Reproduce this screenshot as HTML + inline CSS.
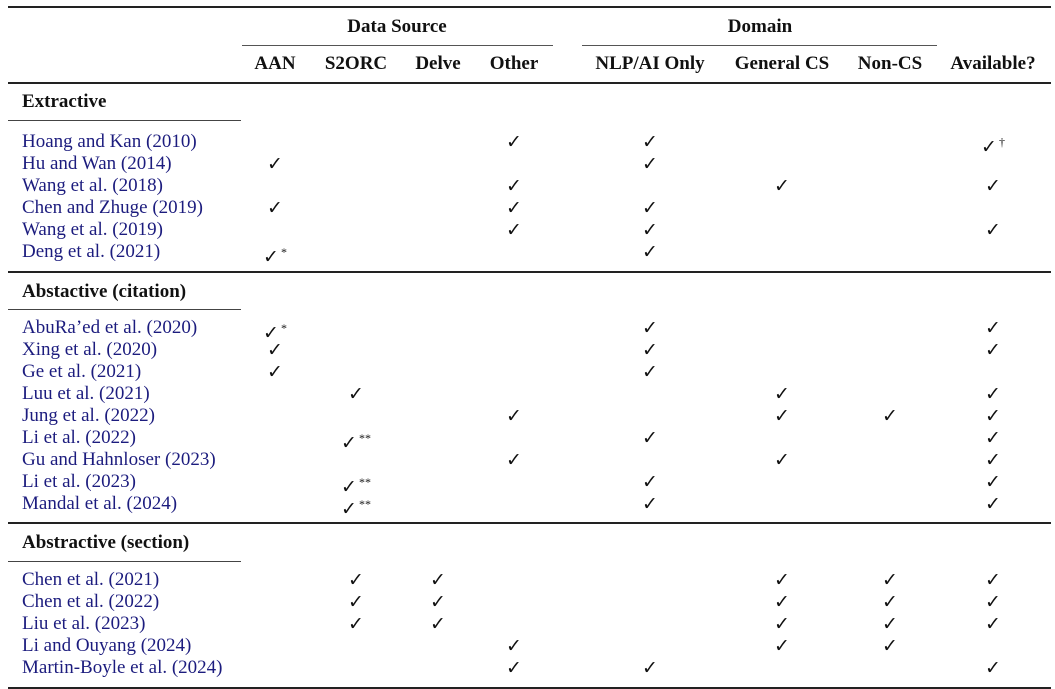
<!DOCTYPE html>
<html><head><meta charset="utf-8"><style>
body{margin:0;background:#fff;}
#c{position:relative;width:1055px;height:689px;overflow:hidden;font-family:"Liberation Serif",serif;font-size:19px;color:#111;}
.t{position:absolute;height:22px;line-height:22px;white-space:nowrap;}
.n{left:22px;color:#1c1c7e;}
.b{font-weight:bold;}
.c{transform:translateX(-50%);}
.k{font-family:"DejaVu Sans",sans-serif;font-size:19px;}
.s{font-family:"Liberation Serif",serif;font-size:12px;vertical-align:7px;margin-left:2px;}
.r{position:absolute;background:#222;}
</style></head><body><div id="c">
<div class="r" style="left:8px;top:6px;width:1043px;height:2px"></div>
<div class="r" style="left:242px;top:45px;width:311px;height:1px;background:#555"></div>
<div class="r" style="left:582px;top:45px;width:355px;height:1px;background:#555"></div>
<div class="r" style="left:8px;top:82px;width:1043px;height:1.5px"></div>
<div class="r" style="left:8px;top:120px;width:233px;height:1px;background:#444"></div>
<div class="r" style="left:8px;top:271px;width:1043px;height:1.5px"></div>
<div class="r" style="left:8px;top:309px;width:233px;height:1px;background:#444"></div>
<div class="r" style="left:8px;top:522px;width:1043px;height:1.5px"></div>
<div class="r" style="left:8px;top:561px;width:233px;height:1px;background:#444"></div>
<div class="r" style="left:8px;top:687px;width:1043px;height:2px"></div>

<div class="t b c" style="left:397px;top:16px">Data Source</div>
<div class="t b c" style="left:760px;top:16px">Domain</div>
<div class="t b c" style="left:275px;top:53px">AAN</div>
<div class="t b c" style="left:356px;top:53px">S2ORC</div>
<div class="t b c" style="left:438px;top:53px">Delve</div>
<div class="t b c" style="left:514px;top:53px">Other</div>
<div class="t b c" style="left:650px;top:53px">NLP/AI Only</div>
<div class="t b c" style="left:782px;top:53px">General CS</div>
<div class="t b c" style="left:890px;top:53px">Non-CS</div>
<div class="t b c" style="left:993px;top:53px">Available?</div>

<div class="t b" style="left:22px;top:91px">Extractive</div>
<div class="t b" style="left:22px;top:281px">Abstactive (citation)</div>
<div class="t b" style="left:22px;top:532px">Abstractive (section)</div>

<div class="t n" style="top:131px">Hoang and Kan (2010)</div>
<div class="t c k" style="left:514px;top:131px">✓</div><div class="t c k" style="left:650px;top:131px">✓</div><div class="t c k" style="left:993px;top:131px">✓<span class="s">†</span></div>
<div class="t n" style="top:153px">Hu and Wan (2014)</div>
<div class="t c k" style="left:275px;top:153px">✓</div><div class="t c k" style="left:650px;top:153px">✓</div>
<div class="t n" style="top:175px">Wang et al. (2018)</div>
<div class="t c k" style="left:514px;top:175px">✓</div><div class="t c k" style="left:782px;top:175px">✓</div><div class="t c k" style="left:993px;top:175px">✓</div>
<div class="t n" style="top:197px">Chen and Zhuge (2019)</div>
<div class="t c k" style="left:275px;top:197px">✓</div><div class="t c k" style="left:514px;top:197px">✓</div><div class="t c k" style="left:650px;top:197px">✓</div>
<div class="t n" style="top:219px">Wang et al. (2019)</div>
<div class="t c k" style="left:514px;top:219px">✓</div><div class="t c k" style="left:650px;top:219px">✓</div><div class="t c k" style="left:993px;top:219px">✓</div>
<div class="t n" style="top:241px">Deng et al. (2021)</div>
<div class="t c k" style="left:275px;top:241px">✓<span class="s">*</span></div><div class="t c k" style="left:650px;top:241px">✓</div>

<div class="t n" style="top:317px">AbuRa’ed et al. (2020)</div>
<div class="t c k" style="left:275px;top:317px">✓<span class="s">*</span></div><div class="t c k" style="left:650px;top:317px">✓</div><div class="t c k" style="left:993px;top:317px">✓</div>
<div class="t n" style="top:339px">Xing et al. (2020)</div>
<div class="t c k" style="left:275px;top:339px">✓</div><div class="t c k" style="left:650px;top:339px">✓</div><div class="t c k" style="left:993px;top:339px">✓</div>
<div class="t n" style="top:361px">Ge et al. (2021)</div>
<div class="t c k" style="left:275px;top:361px">✓</div><div class="t c k" style="left:650px;top:361px">✓</div>
<div class="t n" style="top:383px">Luu et al. (2021)</div>
<div class="t c k" style="left:356px;top:383px">✓</div><div class="t c k" style="left:782px;top:383px">✓</div><div class="t c k" style="left:993px;top:383px">✓</div>
<div class="t n" style="top:405px">Jung et al. (2022)</div>
<div class="t c k" style="left:514px;top:405px">✓</div><div class="t c k" style="left:782px;top:405px">✓</div><div class="t c k" style="left:890px;top:405px">✓</div><div class="t c k" style="left:993px;top:405px">✓</div>
<div class="t n" style="top:427px">Li et al. (2022)</div>
<div class="t c k" style="left:356px;top:427px">✓<span class="s">**</span></div><div class="t c k" style="left:650px;top:427px">✓</div><div class="t c k" style="left:993px;top:427px">✓</div>
<div class="t n" style="top:449px">Gu and Hahnloser (2023)</div>
<div class="t c k" style="left:514px;top:449px">✓</div><div class="t c k" style="left:782px;top:449px">✓</div><div class="t c k" style="left:993px;top:449px">✓</div>
<div class="t n" style="top:471px">Li et al. (2023)</div>
<div class="t c k" style="left:356px;top:471px">✓<span class="s">**</span></div><div class="t c k" style="left:650px;top:471px">✓</div><div class="t c k" style="left:993px;top:471px">✓</div>
<div class="t n" style="top:493px">Mandal et al. (2024)</div>
<div class="t c k" style="left:356px;top:493px">✓<span class="s">**</span></div><div class="t c k" style="left:650px;top:493px">✓</div><div class="t c k" style="left:993px;top:493px">✓</div>

<div class="t n" style="top:569px">Chen et al. (2021)</div>
<div class="t c k" style="left:356px;top:569px">✓</div><div class="t c k" style="left:438px;top:569px">✓</div><div class="t c k" style="left:782px;top:569px">✓</div><div class="t c k" style="left:890px;top:569px">✓</div><div class="t c k" style="left:993px;top:569px">✓</div>
<div class="t n" style="top:591px">Chen et al. (2022)</div>
<div class="t c k" style="left:356px;top:591px">✓</div><div class="t c k" style="left:438px;top:591px">✓</div><div class="t c k" style="left:782px;top:591px">✓</div><div class="t c k" style="left:890px;top:591px">✓</div><div class="t c k" style="left:993px;top:591px">✓</div>
<div class="t n" style="top:613px">Liu et al. (2023)</div>
<div class="t c k" style="left:356px;top:613px">✓</div><div class="t c k" style="left:438px;top:613px">✓</div><div class="t c k" style="left:782px;top:613px">✓</div><div class="t c k" style="left:890px;top:613px">✓</div><div class="t c k" style="left:993px;top:613px">✓</div>
<div class="t n" style="top:635px">Li and Ouyang (2024)</div>
<div class="t c k" style="left:514px;top:635px">✓</div><div class="t c k" style="left:782px;top:635px">✓</div><div class="t c k" style="left:890px;top:635px">✓</div>
<div class="t n" style="top:657px">Martin-Boyle et al. (2024)</div>
<div class="t c k" style="left:514px;top:657px">✓</div><div class="t c k" style="left:650px;top:657px">✓</div><div class="t c k" style="left:993px;top:657px">✓</div>
</div></body></html>
